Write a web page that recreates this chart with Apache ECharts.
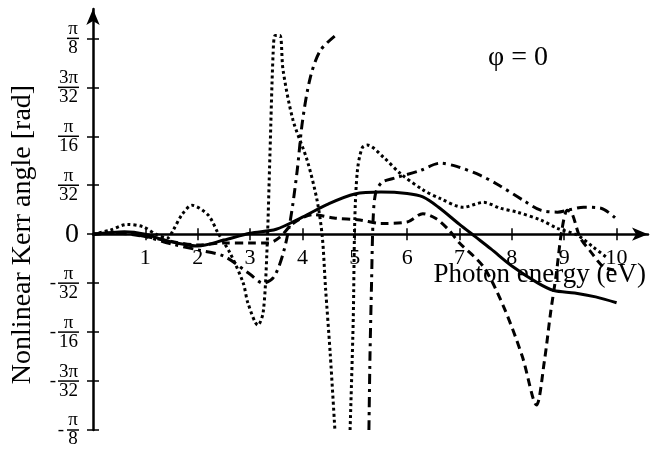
<!DOCTYPE html>
<html><head><meta charset="utf-8">
<script src="https://cdn.jsdelivr.net/npm/echarts@6/dist/echarts.min.js"></script>
<style>html,body{margin:0;padding:0;background:#fff}#c{width:670px;height:449px}</style>
</head><body><div id="c"></div>
<script>
// x: photon energy (eV); y: Kerr angle in units of pi/32 rad
const xTicks = [1, 2, 3, 4, 5, 6, 7, 8, 9, 10];
const yTicks = [-4, -3, -2, -1, 0, 1, 2, 3, 4];
const yNumerators = {1: 'π', 2: 'π', 3: '3π', 4: 'π'};
const yDenominators = {1: '32', 2: '16', 3: '32', 4: '8'};

const solid = [[0,0],[0.3,0.03],[0.6,0.05],[1,0],[1.3,-0.1],[1.6,-0.18],[2,-0.24],[2.5,-0.12],[3,0.02],[3.5,0.1],[4,0.35],[4.5,0.62],[5,0.82],[5.5,0.86],[6,0.83],[6.3,0.76],[6.6,0.55],[7,0.2],[7.3,-0.05],[7.6,-0.3],[8,-0.65],[8.5,-1.0],[8.8,-1.15],[9.2,-1.2],[9.6,-1.28],[10,-1.4]];
const dashed = [[0,0],[0.5,0.02],[1,-0.05],[1.5,-0.15],[2,-0.22],[2.5,-0.18],[3,-0.18],[3.35,-0.18],[3.57,-0.06],[3.82,0.22],[4.2,0.4],[4.6,0.33],[5.1,0.29],[5.5,0.22],[6,0.25],[6.3,0.42],[6.55,0.32],[6.8,0.08],[7.0,-0.18],[7.46,-0.67],[7.85,-1.5],[8.2,-2.5],[8.47,-3.49],[8.62,-2.6],[8.74,-1.6],[8.85,-0.8],[8.95,0.05],[9.06,0.49],[9.15,0.42],[9.3,-0.06],[9.5,-0.35],[9.75,-0.67],[9.95,-0.73]];
const dotted = [[0,0],[0.32,0.08],[0.65,0.2],[0.96,0.15],[1.2,0.0],[1.42,-0.08],[1.53,0.08],[1.7,0.4],[1.89,0.59],[2.2,0.39],[2.39,0.02],[2.62,-0.39],[2.87,-1.0],[2.96,-1.41],[3.15,-1.86],[3.25,-1.6],[3.32,-0.4],[3.38,1.65],[3.44,3.69],[3.48,4.06],[3.57,4.06],[3.63,3.35],[3.82,2.33],[4.09,1.51],[4.28,0.69],[4.38,-0.06],[4.44,-1.08],[4.53,-2.43],[4.62,-4],[4.77,null],[4.91,-4],[4.97,-1.76],[5.0,0.29],[5.05,1.3],[5.14,1.76],[5.24,1.82],[5.55,1.57],[5.87,1.24],[6.31,0.9],[6.63,0.73],[7.07,0.55],[7.46,0.65],[7.78,0.53],[8.1,0.45],[8.55,0.29],[8.87,0.12],[9.25,-0.02],[9.56,-0.27],[9.83,-0.49]];
const dashDot = [[0,0],[0.5,0.03],[1,-0.05],[1.5,-0.2],[2,-0.32],[2.5,-0.45],[3,-0.82],[3.25,-1.0],[3.45,-0.88],[3.63,-0.4],[3.77,0.29],[3.9,1.3],[4.0,2.3],[4.15,3.2],[4.34,3.75],[4.63,4.06],[4.9,null],[5.27,-4.0],[5.29,-2.5],[5.32,-1.0],[5.35,0.3],[5.4,0.85],[5.52,1.06],[5.74,1.14],[6.25,1.3],[6.63,1.45],[6.96,1.38],[7.4,1.2],[7.72,1.02],[8.22,0.69],[8.55,0.49],[8.87,0.45],[9.1,0.5],[9.37,0.55],[9.7,0.53],[9.98,0.33]];

const FONT = "'Liberation Serif','DejaVu Serif',serif";
const chart = echarts.init(document.getElementById('c'), null, {renderer: 'canvas'});

function fracLabel(v) {
  if (v === 0) return '{z|0}';
  const a = Math.abs(v);
  const w = a === 4 ? 'S' : 'L';
  return '{n|' + yNumerators[a] + '}\n{l' + w + '| }\n{d|' + yDenominators[a] + '}';
}
function minusLabel(v) {
  if (v >= 0) return '';
  return Math.abs(v) === 4 ? '{ms|-}' : '{ml|-}';
}

const axisColor = '#000';
chart.setOption({
  animation: false,
  backgroundColor: '#fff',
  title: {text: 'φ = 0', left: 483, top: 39, textStyle: {fontSize: 28, fontFamily: FONT, fontWeight: 'normal', color: '#000'}},
  grid: {left: 93, right: 22, top: 9, bottom: 19, containLabel: false, outerBoundsMode: 'none'},
  xAxis: [
    {type: 'value', min: 0, max: 10.6,
     axisLine: {onZero: true, symbol: ['none', 'arrow'], symbolSize: [10, 16], lineStyle: {color: axisColor, width: 2.5}},
     axisTick: {show: true, customValues: xTicks, length: 6, lineStyle: {color: axisColor, width: 1.5}},
     axisLabel: {customValues: xTicks, fontSize: 22, fontFamily: FONT, color: '#000', margin: -183},
     splitLine: {show: false},
     name: 'Photon energy (eV)', nameLocation: 'end', nameGap: -2, nameMoveOverlap: false,
     nameTextStyle: {align: 'right', verticalAlign: 'top', padding: [27, 0, 0, 0], fontSize: 27, fontFamily: FONT, color: '#000'}},
    {type: 'value', min: 0, max: 10.6, position: 'bottom',
     axisLine: {show: true, onZero: true, lineStyle: {opacity: 0}},
     axisTick: {show: true, inside: true, customValues: xTicks, length: 6, lineStyle: {color: axisColor, width: 1.5}},
     axisLabel: {show: false}, splitLine: {show: false}}
  ],
  yAxis: [
    {type: 'value', min: -4, max: 4.6,
     axisLine: {onZero: true, symbol: ['none', 'arrow'], symbolSize: [10, 16], lineStyle: {color: axisColor, width: 2.5}},
     axisTick: {show: true, customValues: yTicks, length: 6, lineStyle: {color: axisColor, width: 1.5}},
     axisLabel: {customValues: yTicks, formatter: fracLabel, margin: 14, align: 'right', color: '#000',
       rich: {
         n: {fontSize: 19, fontFamily: FONT, lineHeight: 16, align: 'center', color: '#000'},
         d: {fontSize: 19, fontFamily: FONT, lineHeight: 16, align: 'center', color: '#000'},
         lS: {fontSize: 1, width: 12, height: 1.5, lineHeight: 3, backgroundColor: '#000', align: 'center'},
         lL: {fontSize: 1, width: 21, height: 1.5, lineHeight: 3, backgroundColor: '#000', align: 'center'},
         z: {fontSize: 28, fontFamily: FONT, align: 'center', color: '#000'}
       }},
     splitLine: {show: false},
     name: 'Nonlinear Kerr angle [rad]', nameLocation: 'middle', nameGap: 56, nameRotate: 90, nameMoveOverlap: false,
     nameTextStyle: {fontSize: 28, fontFamily: FONT, color: '#000', padding: [0, 30, 0, 0]}},
    {type: 'value', min: -4, max: 4.6, position: 'left',
     axisLine: {show: true, onZero: true, lineStyle: {opacity: 0}},
     axisTick: {show: true, inside: true, customValues: yTicks, length: 6, lineStyle: {color: axisColor, width: 1.5}},
     axisLabel: {customValues: yTicks, formatter: minusLabel, margin: 14, align: 'right', color: '#000',
       rich: {
         ms: {fontSize: 19, fontFamily: FONT, padding: [0, 15, 0, 0], color: '#000'},
         ml: {fontSize: 19, fontFamily: FONT, padding: [0, 23, 0, 0], color: '#000'}
       }},
     splitLine: {show: false}}
  ],
  series: [
    {name: 'solid', type: 'line', data: solid, showSymbol: false, smooth: 0.3, xAxisIndex: 0, yAxisIndex: 0,
     lineStyle: {color: '#000', width: 3, type: 'solid'}},
    {name: 'dashed', type: 'line', data: dashed, showSymbol: false, smooth: 0.3, xAxisIndex: 0, yAxisIndex: 0,
     lineStyle: {color: '#000', width: 3, type: [8, 5]}},
    {name: 'dotted', type: 'line', data: dotted, showSymbol: false, smooth: 0.3, xAxisIndex: 0, yAxisIndex: 0,
     lineStyle: {color: '#000', width: 3, type: [3, 3]}},
    {name: 'dashdot', type: 'line', data: dashDot, showSymbol: false, smooth: 0.3, xAxisIndex: 0, yAxisIndex: 0,
     lineStyle: {color: '#000', width: 3, type: [10, 5, 3, 5]}}
  ]
});
</script></body></html>
